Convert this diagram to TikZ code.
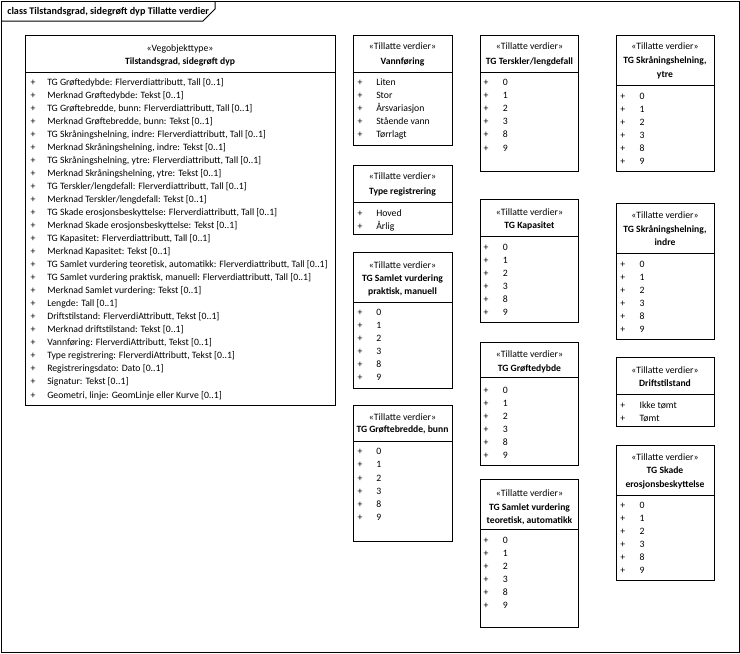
\documentclass[tikz,border=0pt]{standalone}
\usepackage{fontspec}
\setmainfont{Carlito}

\begin{document}
\begin{tikzpicture}[x=0.75pt,y=-0.75pt,
    line/.style={draw=black, line width=0.75pt},
    stereo/.style={anchor=base, inner sep=0pt, font=\fontsize{7.3}{9}\selectfont},
    cname/.style={anchor=base, inner sep=0pt, font=\bfseries\fontsize{7.2}{9}\selectfont},
    plus/.style={anchor=base, inner sep=0pt, font=\fontsize{7.3}{9}\selectfont},
    item/.style={anchor=base west, inner sep=0pt, font=\fontsize{7.3}{9}\selectfont}]
                %page and frame
                \useasboundingbox (0,0) rectangle (740,654);
                \draw[line] (1.3,1.3) rectangle (739,652.7);
                \draw[line] (1.3,21) -- (203,21) -- (215,9) -- (215,1.3);
                \node[item, font=\bfseries\fontsize{7.6}{9}\selectfont] (frame-title) at (7,14) {class Tilstandsgrad, sidegrøft dyp Tillatte verdier};

                %the class with all its attributes
                \draw[line] (25,35) rectangle (335,405);
                \draw[line] (25,72) -- (335,72);
                \node[stereo] (tsg-s) at (180,51) {«Vegobjekttype»};
                \node[cname] (tsg-n) at (180,64) {Tilstandsgrad, sidegrøft dyp};
                \foreach \t [count=\i] in {%
                  {TG Grøftedybde: Flerverdiattributt, Tall [0..1]},
                  {Merknad Grøftedybde: Tekst [0..1]},
                  {TG Grøftebredde, bunn: Flerverdiattributt, Tall [0..1]},
                  {Merknad Grøftebredde, bunn: Tekst [0..1]},
                  {TG Skråningshelning, indre: Flerverdiattributt, Tall [0..1]},
                  {Merknad Skråningshelning, indre: Tekst [0..1]},
                  {TG Skråningshelning, ytre: Flerverdiattributt, Tall [0..1]},
                  {Merknad Skråningshelning, ytre: Tekst [0..1]},
                  {TG Terskler/lengdefall: Flerverdiattributt, Tall [0..1]},
                  {Merknad Terskler/lengdefall: Tekst [0..1]},
                  {TG Skade erosjonsbeskyttelse: Flerverdiattributt, Tall [0..1]},
                  {Merknad Skade erosjonsbeskyttelse: Tekst [0..1]},
                  {TG Kapasitet: Flerverdiattributt, Tall [0..1]},
                  {Merknad Kapasitet: Tekst [0..1]},
                  {TG Samlet vurdering teoretisk, automatikk: Flerverdiattributt, Tall [0..1]},
                  {TG Samlet vurdering praktisk, manuell: Flerverdiattributt, Tall [0..1]},
                  {Merknad Samlet vurdering: Tekst [0..1]},
                  {Lengde: Tall [0..1]},
                  {Driftstilstand: FlerverdiAttributt, Tekst [0..1]},
                  {Merknad driftstilstand: Tekst [0..1]},
                  {Vannføring: FlerverdiAttributt, Tekst [0..1]},
                  {Type registrering: FlerverdiAttributt, Tekst [0..1]},
                  {Registreringsdato: Dato [0..1]},
                  {Signatur: Tekst [0..1]},
                  {Geometri, linje: GeomLinje eller Kurve [0..1]}} {
                  \node[plus] (tsg-p\i) at (33,72+13.04*\i) {+};
                  \node[item] (tsg-\i) at (47,72+13.04*\i) {\t};
                }

                %second column
                \draw[line] (353,35) rectangle (452,145.3);
                \draw[line] (353,72.3) -- (452,72.3);
                \node[stereo] (vann-s) at (402.5,49.7) {«Tillatte verdier»};
                \node[cname] (vann-n) at (402.5,64.7) {Vannføring};
                \foreach \t [count=\i] in {Liten,Stor,Årsvariasjon,Stående vann,Tørrlagt} {
                  \node[plus] (vann-p\i) at (360,72.7+13*\i) {+};
                  \node[item] (vann-\i) at (376,72.7+13*\i) {\t};
                }

                \draw[line] (353,165) rectangle (452,234);
                \draw[line] (353,202.3) -- (452,202.3);
                \node[stereo] (treg-s) at (402.5,179.7) {«Tillatte verdier»};
                \node[cname] (treg-n) at (402.5,194.7) {Type registrering};
                \foreach \t [count=\i] in {Hoved,Årlig} {
                  \node[plus] (treg-p\i) at (360,203+13*\i) {+};
                  \node[item] (treg-\i) at (376,203+13*\i) {\t};
                }

                \draw[line] (353,252.3) rectangle (452,388);
                \draw[line] (353,302.3) -- (452,302.3);
                \node[stereo] (sprakt-s) at (402.5,268) {«Tillatte verdier»};
                \node[cname] (sprakt-n1) at (402.5,281.3) {TG Samlet vurdering};
                \node[cname] (sprakt-n2) at (402.5,294.7) {praktisk, manuell};
                \foreach \v [count=\i from 0] in {0,1,2,3,8,9} {
                  \node[plus] (sprakt-p\i) at (360,315.7+13*\i) {+};
                  \node[item] (sprakt-\i) at (376,315.7+13*\i) {\v};
                }

                \draw[line] (353,405) rectangle (452,541.3);
                \draw[line] (353,441.7) -- (452,441.7);
                \node[stereo] (gbredde-s) at (402.5,420.7) {«Tillatte verdier»};
                \node[cname] (gbredde-n) at (402.5,432.3) {TG Grøftebredde, bunn};
                \foreach \v [count=\i from 0] in {0,1,2,3,8,9} {
                  \node[plus] (gbredde-p\i) at (360,454.7+13.2*\i) {+};
                  \node[item] (gbredde-\i) at (376,454.7+13.2*\i) {\v};
                }

                %third column
                \draw[line] (480.7,35) rectangle (578.3,171.3);
                \draw[line] (480.7,72.3) -- (578.3,72.3);
                \node[stereo] (tersk-s) at (529.5,49.7) {«Tillatte verdier»};
                \node[cname] (tersk-n) at (529.5,64.7) {TG Terskler/lengdefall};
                \foreach \v [count=\i from 0] in {0,1,2,3,8,9} {
                  \node[plus] (tersk-p\i) at (486,85.7+13.06*\i) {+};
                  \node[item] (tersk-\i) at (502.7,85.7+13.06*\i) {\v};
                }

                \draw[line] (480.7,199.3) rectangle (578.3,322.7);
                \draw[line] (480.7,236.7) -- (578.3,236.7);
                \node[stereo] (kap-s) at (529.5,215.7) {«Tillatte verdier»};
                \node[cname] (kap-n) at (529.5,228) {TG Kapasitet};
                \foreach \v [count=\i from 0] in {0,1,2,3,8,9} {
                  \node[plus] (kap-p\i) at (486,250.3+12.94*\i) {+};
                  \node[item] (kap-\i) at (502.7,250.3+12.94*\i) {\v};
                }

                \draw[line] (480.7,342.7) rectangle (578.3,465);
                \draw[line] (480.7,377.3) -- (578.3,377.3);
                \node[stereo] (gdybde-s) at (529.5,357.3) {«Tillatte verdier»};
                \node[cname] (gdybde-n) at (529.5,371.3) {TG Grøftedybde};
                \foreach \v [count=\i from 0] in {0,1,2,3,8,9} {
                  \node[plus] (gdybde-p\i) at (486,393.3+12.94*\i) {+};
                  \node[item] (gdybde-\i) at (502.7,393.3+12.94*\i) {\v};
                }

                \draw[line] (480.7,479.3) rectangle (578.3,627.7);
                \draw[line] (480.7,529.3) -- (578.3,529.3);
                \node[stereo] (steor-s) at (529.5,496) {«Tillatte verdier»};
                \node[cname] (steor-n1) at (529.5,510.7) {TG Samlet vurdering};
                \node[cname] (steor-n2) at (529.5,523.7) {teoretisk, automatikk};
                \foreach \v [count=\i from 0] in {0,1,2,3,8,9} {
                  \node[plus] (steor-p\i) at (486,543.3+12.94*\i) {+};
                  \node[item] (steor-\i) at (502.7,543.3+12.94*\i) {\v};
                }

                %fourth column
                \draw[line] (616,35) rectangle (714.3,171);
                \draw[line] (616,85) -- (714.3,85);
                \node[stereo] (ytre-s) at (665,49.7) {«Tillatte verdier»};
                \node[cname] (ytre-n1) at (665,63.7) {TG Skråningshelning,};
                \node[cname] (ytre-n2) at (665,77) {ytre};
                \foreach \v [count=\i from 0] in {0,1,2,3,8,9} {
                  \node[plus] (ytre-p\i) at (622.7,99+13*\i) {+};
                  \node[item] (ytre-\i) at (639.3,99+13*\i) {\v};
                }

                \draw[line] (616,203.3) rectangle (714.3,339.3);
                \draw[line] (616,253.3) -- (714.3,253.3);
                \node[stereo] (indre-s) at (665,218) {«Tillatte verdier»};
                \node[cname] (indre-n1) at (665,232) {TG Skråningshelning,};
                \node[cname] (indre-n2) at (665,245) {indre};
                \foreach \v [count=\i from 0] in {0,1,2,3,8,9} {
                  \node[plus] (indre-p\i) at (622.7,267.3+12.94*\i) {+};
                  \node[item] (indre-\i) at (639.3,267.3+12.94*\i) {\v};
                }

                \draw[line] (616,357.3) rectangle (714.3,426);
                \draw[line] (616,394) -- (714.3,394);
                \node[stereo] (drift-s) at (665,373) {«Tillatte verdier»};
                \node[cname] (drift-n) at (665,386.3) {Driftstilstand};
                \foreach \t [count=\i] in {Ikke tømt,Tømt} {
                  \node[plus] (drift-p\i) at (622.7,394.7+13.3*\i) {+};
                  \node[item] (drift-\i) at (639.3,394.7+13.3*\i) {\t};
                }

                \draw[line] (616,445.3) rectangle (714.3,580.7);
                \draw[line] (616,495) -- (714.3,495);
                \node[stereo] (skade-s) at (665,460.7) {«Tillatte verdier»};
                \node[cname] (skade-n1) at (665,473.7) {TG Skade};
                \node[cname] (skade-n2) at (665,487) {erosjonsbeskyttelse};
                \foreach \v [count=\i from 0] in {0,1,2,3,8,9} {
                  \node[plus] (skade-p\i) at (622.7,508.3+13.08*\i) {+};
                  \node[item] (skade-\i) at (639.3,508.3+13.08*\i) {\v};
                }
            \end{tikzpicture}
\end{document}
